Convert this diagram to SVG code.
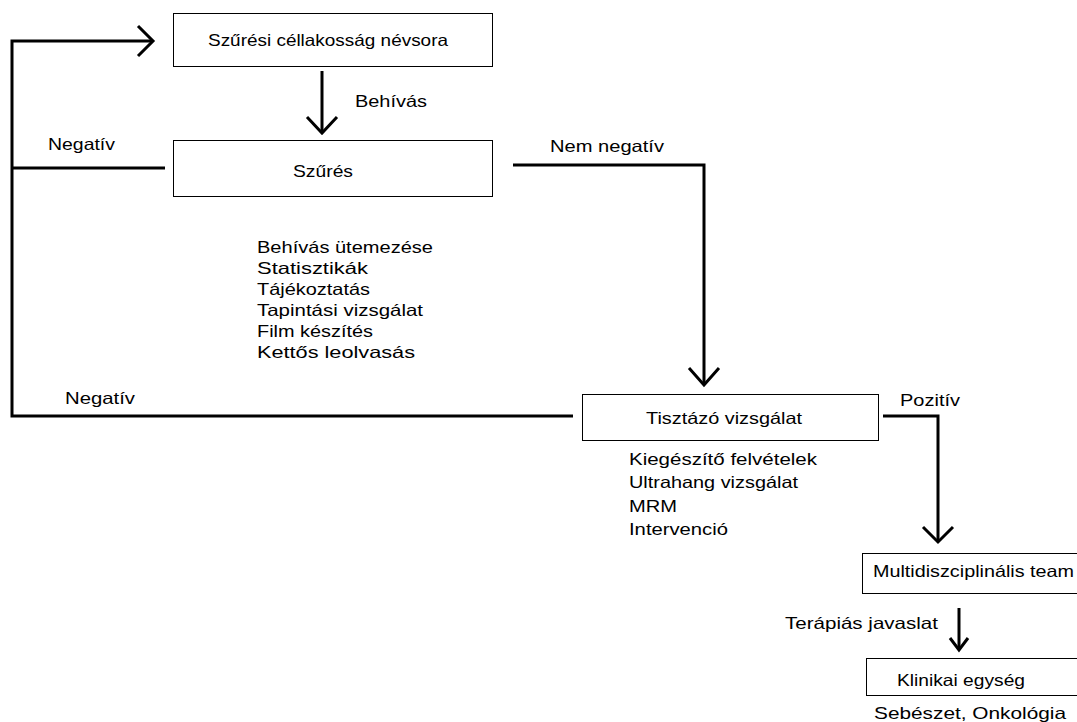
<svg xmlns="http://www.w3.org/2000/svg" width="1077" height="722" viewBox="0 0 1077 722">
<style>
.box{fill:#fff;stroke:#000;stroke-width:1}
.t{font-family:"Liberation Sans",Arial,sans-serif;font-size:16.5px;fill:#000}
.ln{fill:none;stroke:#000;stroke-width:3}
</style>
<rect width="1077" height="722" fill="#fff"/>
<g id="connectors">
  <polyline class="ln" points="165,168 12,168"/>
  <polyline class="ln" points="573,416 12,416 12,41 153,41"/>
  <polyline class="ln" points="138,26 153,41 138,56"/>
  <line class="ln" x1="322" y1="71" x2="322" y2="133"/>
  <polyline class="ln" points="307,117 322,133 337,117"/>
  <polyline class="ln" points="513,165 704,165 704,385"/>
  <polyline class="ln" points="689,368 704,385 719,368"/>
  <polyline class="ln" points="883,416 938,416 938,542"/>
  <polyline class="ln" points="923,527 938,542 953,527"/>
  <line class="ln" x1="959" y1="608" x2="959" y2="650"/>
  <polyline class="ln" points="950,638 959,650 968,638"/>
  <text class="t" x="355" y="107" textLength="72" lengthAdjust="spacingAndGlyphs">Behívás</text>
  <text class="t" x="48" y="150" textLength="67" lengthAdjust="spacingAndGlyphs">Negatív</text>
  <text class="t" x="550" y="152" textLength="114" lengthAdjust="spacingAndGlyphs">Nem negatív</text>
  <text class="t" x="65" y="404" textLength="70" lengthAdjust="spacingAndGlyphs">Negatív</text>
  <text class="t" x="900" y="406" textLength="60" lengthAdjust="spacingAndGlyphs">Pozitív</text>
  <text class="t" x="785" y="629" textLength="153" lengthAdjust="spacingAndGlyphs">Terápiás javaslat</text>
</g>
<g id="node-nevsor">
  <rect class="box" x="173.5" y="13.5" width="319" height="53"/>
  <text class="t" x="208" y="46" textLength="240" lengthAdjust="spacingAndGlyphs">Szűrési céllakosság névsora</text>
</g>
<g id="node-szures">
  <rect class="box" x="173.5" y="140.5" width="319" height="56"/>
  <text class="t" x="293" y="177" textLength="60" lengthAdjust="spacingAndGlyphs">Szűrés</text>
  <text class="t" x="257" y="253" textLength="176" lengthAdjust="spacingAndGlyphs">Behívás ütemezése</text>
  <text class="t" x="257" y="274" textLength="111" lengthAdjust="spacingAndGlyphs">Statisztikák</text>
  <text class="t" x="257" y="295" textLength="113" lengthAdjust="spacingAndGlyphs">Tájékoztatás</text>
  <text class="t" x="257" y="316" textLength="166" lengthAdjust="spacingAndGlyphs">Tapintási vizsgálat</text>
  <text class="t" x="257" y="337" textLength="116" lengthAdjust="spacingAndGlyphs">Film készítés</text>
  <text class="t" x="257" y="358" textLength="158" lengthAdjust="spacingAndGlyphs">Kettős leolvasás</text>
</g>
<g id="node-tisztazo">
  <rect class="box" x="582.5" y="394.5" width="296" height="46"/>
  <text class="t" x="646" y="424" textLength="156" lengthAdjust="spacingAndGlyphs">Tisztázó vizsgálat</text>
  <text class="t" x="629" y="465" textLength="188" lengthAdjust="spacingAndGlyphs">Kiegészítő felvételek</text>
  <text class="t" x="629" y="488" textLength="169" lengthAdjust="spacingAndGlyphs">Ultrahang vizsgálat</text>
  <text class="t" x="629" y="512" textLength="48" lengthAdjust="spacingAndGlyphs">MRM</text>
  <text class="t" x="629" y="535" textLength="99" lengthAdjust="spacingAndGlyphs">Intervenció</text>
</g>
<g id="node-team">
  <rect class="box" x="862.5" y="553.5" width="230" height="40"/>
  <text class="t" x="873" y="577" textLength="201" lengthAdjust="spacingAndGlyphs">Multidiszciplinális team</text>
</g>
<g id="node-klinikai">
  <rect class="box" x="866.5" y="658.5" width="230" height="37"/>
  <text class="t" x="897" y="686" textLength="128" lengthAdjust="spacingAndGlyphs">Klinikai egység</text>
  <text class="t" x="874" y="719" textLength="192" lengthAdjust="spacingAndGlyphs">Sebészet, Onkológia</text>
</g>
</svg>
